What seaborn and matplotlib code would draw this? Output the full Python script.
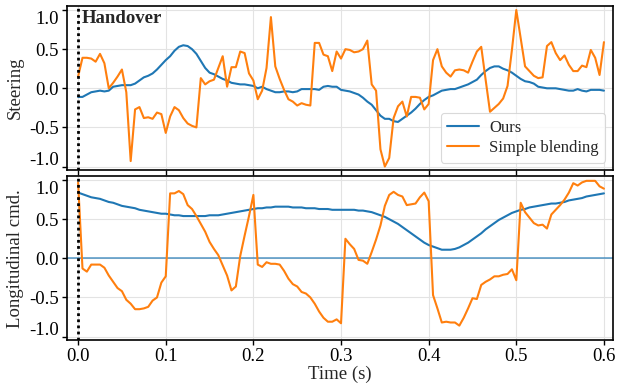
import numpy as np
import pandas as pd
import matplotlib
matplotlib.use("Agg")
import matplotlib.pyplot as plt
import matplotlib.transforms as mtransforms
import seaborn as sns

# ---------------- data ----------------
time_step = 0.005
n_steps = 121
time = np.round(np.arange(n_steps) * time_step, 3)

steer_ours = [
    -0.11, -0.11, -0.08, -0.05, -0.04, -0.03, -0.04, -0.03, 0.02, 0.03,
    0.04, 0.04, 0.04, 0.06, 0.10, 0.14, 0.16, 0.19, 0.24, 0.30,
    0.36, 0.41, 0.48, 0.53, 0.55, 0.54, 0.50, 0.44, 0.35, 0.26,
    0.20, 0.18, 0.15, 0.12, 0.10, 0.07, 0.06, 0.05, 0.05, 0.04,
    0.03, 0.00, 0.02, -0.01, -0.03, -0.05, -0.05, -0.04, -0.04, -0.05,
    -0.04, -0.01, -0.01, -0.01, -0.01, -0.02, 0.02, 0.03, 0.02, 0.02,
    -0.02, -0.03, -0.04, -0.06, -0.08, -0.12, -0.17, -0.21, -0.28, -0.35,
    -0.39, -0.39, -0.42, -0.43, -0.39, -0.35, -0.31, -0.26, -0.20, -0.15,
    -0.11, -0.09, -0.06, -0.03, -0.02, -0.01, -0.01, 0.01, 0.03, 0.05,
    0.08, 0.11, 0.17, 0.22, 0.26, 0.28, 0.28, 0.25, 0.23, 0.20,
    0.16, 0.12, 0.09, 0.08, 0.06, 0.02, 0.01, 0.00, 0.00, 0.00,
    -0.01, -0.02, -0.03, -0.03, -0.01, -0.03, -0.04, -0.02, -0.02, -0.02,
    -0.03,
]

steer_blend = [
    0.15, 0.39, 0.39, 0.38, 0.34, 0.44, 0.32, 0.00, 0.07, 0.15,
    0.24, -0.05, -0.93, -0.27, -0.24, -0.38, -0.37, -0.39, -0.31, -0.33,
    -0.57, -0.36, -0.24, -0.28, -0.38, -0.45, -0.48, -0.50, 0.13, 0.05,
    0.09, 0.11, 0.26, 0.41, 0.02, 0.27, 0.27, 0.47, 0.45, 0.19,
    0.10, -0.14, -0.03, 0.26, 0.91, 0.28, 0.12, -0.02, -0.14, -0.17,
    -0.22, -0.19, -0.21, -0.22, 0.58, 0.58, 0.43, 0.41, 0.22, 0.47,
    0.38, 0.50, 0.49, 0.46, 0.47, 0.50, 0.61, 0.05, -0.03, -0.78,
    -1.00, -0.89, -0.38, -0.23, -0.17, -0.36, -0.11, -0.11, -0.12, -0.27,
    -0.20, 0.36, 0.50, 0.28, 0.20, 0.15, 0.23, 0.24, 0.23, 0.20,
    0.34, 0.47, 0.53, 0.11, -0.30, -0.25, -0.20, -0.13, 0.03, 0.49,
    1.00, 0.64, 0.28, 0.22, 0.16, 0.13, 0.14, 0.54, 0.59, 0.45,
    0.36, 0.42, 0.30, 0.22, 0.22, 0.29, 0.27, 0.49, 0.39, 0.17,
    0.59,
]

lon_ours = [
    0.84, 0.82, 0.80, 0.78, 0.77, 0.76, 0.74, 0.72, 0.71, 0.69,
    0.67, 0.66, 0.65, 0.64, 0.62, 0.61, 0.60, 0.59, 0.58, 0.57,
    0.57, 0.56, 0.55, 0.55, 0.54, 0.54, 0.54, 0.54, 0.54, 0.54,
    0.55, 0.55, 0.55, 0.56, 0.57, 0.58, 0.59, 0.60, 0.61, 0.62,
    0.63, 0.64, 0.64, 0.65, 0.65, 0.66, 0.66, 0.66, 0.66, 0.65,
    0.65, 0.65, 0.64, 0.64, 0.64, 0.63, 0.63, 0.63, 0.62, 0.62,
    0.62, 0.62, 0.62, 0.62, 0.61, 0.61, 0.60, 0.59, 0.57, 0.55,
    0.53, 0.50, 0.47, 0.44, 0.40, 0.36, 0.32, 0.28, 0.24, 0.20,
    0.17, 0.15, 0.13, 0.11, 0.11, 0.11, 0.12, 0.14, 0.17, 0.20,
    0.24, 0.28, 0.32, 0.37, 0.41, 0.45, 0.49, 0.52, 0.55, 0.58,
    0.60, 0.62, 0.63, 0.65, 0.66, 0.67, 0.68, 0.69, 0.70, 0.70,
    0.71, 0.72, 0.74, 0.75, 0.76, 0.77, 0.79, 0.80, 0.81, 0.82,
    0.83,
]

lon_blend = [
    0.97, -0.13, -0.17, -0.08, -0.08, -0.08, -0.12, -0.22, -0.30, -0.38,
    -0.42, -0.53, -0.58, -0.65, -0.65, -0.64, -0.62, -0.54, -0.50, -0.31,
    -0.23, 0.83, 0.83, 0.86, 0.82, 0.68, 0.63, 0.54, 0.44, 0.34,
    0.21, 0.12, 0.04, -0.09, -0.22, -0.41, -0.36, 0.03, 0.29, 0.54,
    0.81, -0.08, -0.11, -0.05, -0.07, -0.07, -0.08, -0.16, -0.26, -0.33,
    -0.36, -0.43, -0.45, -0.50, -0.58, -0.68, -0.76, -0.81, -0.81, -0.78,
    -0.83, 0.25, 0.18, 0.12, -0.02, -0.03, -0.07, 0.08, 0.24, 0.42,
    0.67, 0.81, 0.85, 0.81, 0.79, 0.68, 0.69, 0.70, 0.78, 0.84,
    0.73, -0.47, -0.64, -0.82, -0.81, -0.82, -0.82, -0.86, -0.76, -0.64,
    -0.51, -0.52, -0.34, -0.30, -0.27, -0.23, -0.23, -0.21, -0.20, -0.14,
    -0.28, 0.71, 0.59, 0.52, 0.45, 0.42, 0.43, 0.38, 0.56, 0.62,
    0.68, 0.75, 0.84, 0.96, 0.93, 0.97, 0.99, 0.99, 0.99, 0.92,
    0.89,
]

methods = ["Ours", "Simple blending"]
x_ticks = [0.0, 0.1, 0.2, 0.3, 0.4, 0.5, 0.6]
y_ticks = [-1.0, -0.5, 0.0, 0.5, 1.0]

df_steer = pd.DataFrame({
    "Time (s)": np.concatenate([time, time]),
    "value": np.concatenate([steer_ours, steer_blend]),
    "method": [methods[0]] * n_steps + [methods[1]] * n_steps,
})
df_lon = pd.DataFrame({
    "Time (s)": np.concatenate([time, time]),
    "value": np.concatenate([lon_ours, lon_blend]),
    "method": [methods[0]] * n_steps + [methods[1]] * n_steps,
})

# ---------------- style ----------------
sns.set_style("whitegrid", {"axes.edgecolor": "black", "grid.color": "#e3e3e3",
                            "xtick.bottom": True, "ytick.left": True})
plt.rcParams["font.family"] = ["Liberation Serif", "DejaVu Serif"]
plt.rcParams["axes.unicode_minus"] = False
FS = 13.5
LEG_FS = 12
palette = {"Ours": "#1f77b4", "Simple blending": "#ff7f0e"}

fig, (ax1, ax2) = plt.subplots(2, 1, figsize=(6.31, 3.83), dpi=100, sharex=True)
fig.subplots_adjust(left=0.106, right=0.971, top=0.984, bottom=0.112, hspace=0.037)

sns.lineplot(data=df_steer, x="Time (s)", y="value", hue="method", hue_order=methods,
             palette=palette, linewidth=1.5, ax=ax1)
sns.lineplot(data=df_lon, x="Time (s)", y="value", hue="method", hue_order=methods,
             palette=palette, linewidth=1.5, ax=ax2, legend=False)

ax2.axhline(0, color="#1f77b4", alpha=0.65, linewidth=1.3, zorder=1)

for ax in (ax1, ax2):
    ax.axvline(0, color="black", linestyle=(0, (1, 1.2)), linewidth=2, zorder=5)
    ax.set_xlim(-0.0128, 0.61)
    ax.set_ylim(-1.045, 1.05)
    ax.set_yticks(y_ticks)
    ax.set_xticks(x_ticks)
    ax.tick_params(labelsize=FS, colors="black", length=3.5, width=1, pad=2)
    for s in ax.spines.values():
        s.set_edgecolor("black")
        s.set_linewidth(1.2)

ax1.set_xlabel("")
ax1.set_ylabel("Steering", fontsize=FS, labelpad=4)
ax2.set_ylabel("Longitudinal cmd.", fontsize=FS, labelpad=4)
ax2.set_xlabel("Time (s)", fontsize=FS, labelpad=1)
ax1.tick_params(labelbottom=False)

ax1.text(0.028, 0.975, "Handover", transform=ax1.transAxes, fontsize=FS,
         fontweight="bold", va="top", ha="left")

leg = ax1.legend(loc="lower right", fontsize=LEG_FS, frameon=True, borderpad=0.4,
                 handlelength=1.9, handletextpad=0.6, labelspacing=0.25,
                 borderaxespad=0.45)
leg.get_frame().set_edgecolor("#d0d0d0")
leg.get_frame().set_linewidth(0.8)

# nudge the outermost y tick labels inward, as in the reference
for ax in (ax1, ax2):
    ticks = ax.yaxis.get_major_ticks()
    for tick, val in zip(ticks, y_ticks):
        if val == 1.0:
            off = mtransforms.ScaledTranslation(0, -0.07, fig.dpi_scale_trans)
        elif val == -1.0:
            off = mtransforms.ScaledTranslation(0, 0.08, fig.dpi_scale_trans)
        else:
            continue
        tick.label1.set_transform(tick.label1.get_transform() + off)

fig.savefig("out.png", dpi=100)
